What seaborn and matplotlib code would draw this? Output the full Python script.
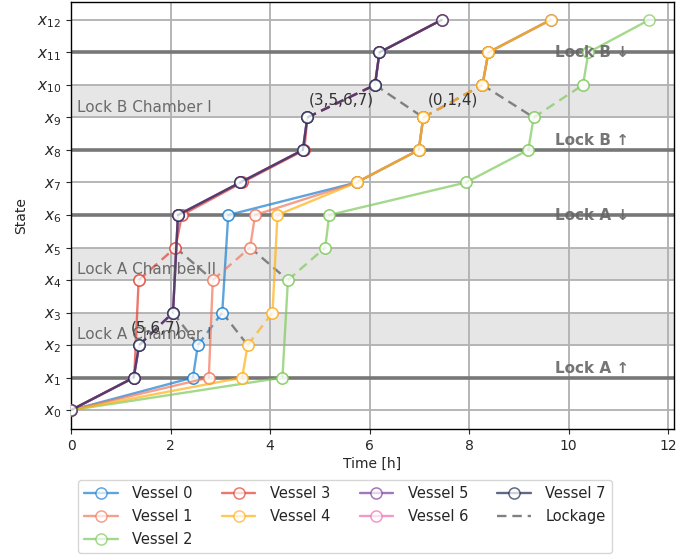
import matplotlib
matplotlib.use("Agg")
import matplotlib.pyplot as plt
import matplotlib.transforms as mtransforms
from matplotlib.lines import Line2D
import pandas as pd
import seaborn as sns

# ---- state paths through the two-lock system ----
PATH_CH1 = [0, 1, 2, 3, 6, 7, 8, 9, 10, 11, 12]   # Lock A via chamber I
PATH_CH2 = [0, 1, 4, 5, 6, 7, 8, 9, 10, 11, 12]   # Lock A via chamber II

vessel_names = ["Vessel 0", "Vessel 1", "Vessel 2", "Vessel 3",
                "Vessel 4", "Vessel 5", "Vessel 6", "Vessel 7"]
vessel_paths = [PATH_CH1, PATH_CH2, PATH_CH2, PATH_CH2,
                PATH_CH1, PATH_CH1, PATH_CH1, PATH_CH1]

# arrival time [h] at each state along the path
t_vessel0 = [0.0, 2.45, 2.55, 3.04, 3.16, 5.74, 6.99, 7.08, 8.27, 8.39, 9.64]
t_vessel1 = [0.0, 2.77, 2.85, 3.60, 3.70, 5.74, 6.99, 7.08, 8.27, 8.39, 9.64]
t_vessel2 = [0.0, 4.25, 4.36, 5.11, 5.19, 7.94, 9.19, 9.30, 10.29, 10.40, 11.62]
t_vessel3 = [0.0, 1.27, 1.36, 2.10, 2.23, 3.44, 4.69, 4.75, 6.11, 6.20, 7.45]
t_vessel4 = [0.0, 3.44, 3.55, 4.05, 4.15, 5.74, 6.99, 7.08, 8.27, 8.39, 9.64]
t_vessel5 = [0.0, 1.26, 1.37, 2.05, 2.15, 3.40, 4.66, 4.75, 6.11, 6.20, 7.45]
t_vessel6 = [0.0, 1.26, 1.37, 2.05, 2.15, 3.40, 4.66, 4.75, 6.11, 6.20, 7.45]
t_vessel7 = [0.0, 1.26, 1.37, 2.05, 2.15, 3.40, 4.66, 4.75, 6.11, 6.20, 7.45]
vessel_times = [t_vessel0, t_vessel1, t_vessel2, t_vessel3,
                t_vessel4, t_vessel5, t_vessel6, t_vessel7]

vessel_colors = ["#1a7fd0", "#f1775b", "#7ec95b", "#e43e30",
                 "#ffb013", "#7b3f9e", "#ec6fb0", "#1f2a50"]

# ---- lockages per chamber: (lower state, upper state) ----
chamber_states = [(2, 3), (4, 5), (9, 10)]
lockage_start = [[1.37, 2.55, 3.55], [1.36, 2.85, 4.36], [4.75, 7.08, 9.30]]
lockage_end = [[2.05, 3.04, 4.05], [2.10, 3.60, 5.11], [6.11, 8.27, 10.29]]
lockage_groups = [[[5, 6, 7], [0], [4]],
                  [[3], [1], [2]],
                  [[3, 5, 6, 7], [0, 1, 4], [2]]]

# ---- annotations ----
lock_lines = [1, 6, 8, 11]
lock_labels = ["Lock A \u2191", "Lock A \u2193", "Lock B \u2191", "Lock B \u2193"]
chamber_bands = [(2, 3), (4, 5), (9, 10)]
chamber_labels = ["Lock A Chamber I", "Lock A Chamber II", "Lock B Chamber I"]
state_labels = [f"$x_{{{i}}}$" for i in range(13)]

chamber_pairs = set(chamber_states)

# one row per point, one unit per straight segment
rows = []
for v, (name, path, times) in enumerate(zip(vessel_names, vessel_paths, vessel_times)):
    for k in range(len(path) - 1):
        kind = "lockage" if (path[k], path[k + 1]) in chamber_pairs else "travel"
        seg = f"{v}-{k}"
        rows.append(dict(vessel=name, seg=seg, kind=kind, time=times[k], state=path[k]))
        rows.append(dict(vessel=name, seg=seg, kind=kind, time=times[k + 1], state=path[k + 1]))
df = pd.DataFrame(rows)

# empty return trips of each chamber between consecutive lockages
ret_rows = []
for c, (lo, hi) in enumerate(chamber_states):
    for i in range(len(lockage_start[c]) - 1):
        seg = f"r{c}-{i}"
        ret_rows.append(dict(seg=seg, time=lockage_end[c][i], state=hi))
        ret_rows.append(dict(seg=seg, time=lockage_start[c][i + 1], state=lo))
df_ret = pd.DataFrame(ret_rows)

sns.set_style("ticks")
plt.rcParams["font.family"] = ["DejaVu Sans"]
plt.rcParams["font.size"] = 10

fig = plt.figure(figsize=(6.9, 5.55), dpi=100)
ax = fig.add_axes([71 / 690, 1 - 429 / 555, (674 - 71) / 690, (429 - 2) / 555])

ax.set_xlim(0, 12.12)
ax.set_ylim(-0.58, 12.55)
ax.set_yticks(range(13))
ax.set_yticklabels(state_labels, fontsize=11)
ax.set_xticks(range(0, 13, 2))
ax.grid(True, color="#b0b0b0", lw=1.3, zorder=0)
ax.set_axisbelow(True)

for lo, hi in chamber_bands:
    ax.axhspan(lo, hi, color="#e6e6e6", zorder=0.5, lw=0)
for y in lock_lines:
    ax.axhline(y, color="#777777", lw=2.6, zorder=1)

n0 = len(ax.lines)
sns.lineplot(data=df_ret, x="time", y="state", units="seg", estimator=None,
             sort=False, color="#808080", lw=1.7, ax=ax, legend=False, zorder=2)
for line in ax.lines[n0:]:
    line.set_dashes((4, 2.5))

alpha = 0.7
palette = dict(zip(vessel_names, vessel_colors))
for name in vessel_names:
    sub = df[df.vessel == name]
    n0 = len(ax.lines)
    sns.lineplot(data=sub, x="time", y="state", hue="vessel", style="kind",
                 units="seg", estimator=None, sort=False, palette=palette,
                 dashes={"travel": "", "lockage": (4, 2.5)},
                 markers={"travel": "o", "lockage": "o"},
                 lw=1.7, alpha=alpha, ax=ax, legend=False, zorder=3)
    for line in ax.lines[n0:]:
        line.set_markersize(8)
        line.set_markerfacecolor("white")
        line.set_markeredgecolor(palette[name])
        line.set_markeredgewidth(1.1)

# label multi-vessel lockages at the middle of the lift
for c, (lo, hi) in enumerate(chamber_states):
    for s, e, g in zip(lockage_start[c], lockage_end[c], lockage_groups[c]):
        if len(g) > 1:
            ax.text((s + e) / 2, (lo + hi) / 2 + 0.03,
                    "(" + ",".join(str(i) for i in g) + ")",
                    ha="center", va="center", fontsize=11, color="#333333", zorder=5)

trans = mtransforms.blended_transform_factory(ax.transAxes, ax.transData)
for (lo, hi), lab in zip(chamber_bands, chamber_labels):
    ax.text(0.01, lo + 0.08, lab, transform=trans, ha="left", va="bottom",
            fontsize=11, color="#555555", alpha=0.85, zorder=6)
for y, lab in zip(lock_lines, lock_labels):
    up = "\u2191" in lab
    ax.text(0.802, y + (0.05 if up else 0.0), lab, transform=trans, ha="left",
            va="bottom" if up else "center", fontsize=11, fontweight="bold",
            color="#666666", alpha=0.9, zorder=6)

ax.set_xlabel("Time [h]", labelpad=3)
ax.set_ylabel("State", labelpad=6)
for sp in ax.spines.values():
    sp.set_visible(True)
    sp.set_color("black")
    sp.set_linewidth(1.0)

handles = [Line2D([], [], color=c, marker="o", markersize=8, markerfacecolor="white",
                  markeredgecolor=c, markeredgewidth=1.1, lw=1.7, alpha=alpha, label=n)
           for n, c in zip(vessel_names, vessel_colors)]
handles.append(Line2D([], [], color="#808080", lw=1.7, dashes=(4, 2.5), label="Lockage"))
fig.legend(handles=handles, loc="lower center", bbox_to_anchor=(0.5, -0.009), ncol=4,
           fontsize=10.5, frameon=True, columnspacing=2.0, handlelength=2.3,
           handletextpad=1.0, labelspacing=0.55)

fig.savefig("out.png", dpi=100)
